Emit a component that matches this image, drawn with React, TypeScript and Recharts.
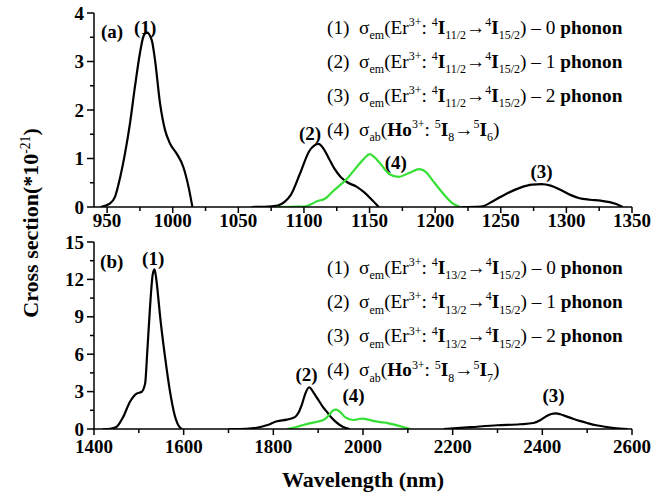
import React from "react";
import { LineChart, Line, XAxis, YAxis, ReferenceDot } from "recharts";

const FONT = '"Liberation Serif", "Times New Roman", serif';
const GREEN = "#33e033";

// ---- panel (a): 4I11/2 -> 4I15/2 emission and Ho 5I8 -> 5I6 absorption
const aWave1 = [945, 952, 956, 960, 963.6, 967.4, 971.2, 975, 977.6, 980.2, 984, 986.5, 990.3, 994.1, 997.9, 1003, 1008, 1012, 1015];
const aSig1 = [0, 0.07, 0.21, 0.62, 1.1, 1.72, 2.48, 3.17, 3.51, 3.6, 3.44, 3.03, 2.14, 1.59, 1.31, 1.1, 0.83, 0.42, 0];

const aWave2 = [1060, 1070, 1080, 1085, 1090, 1097, 1104, 1108, 1111, 1115, 1119, 1123, 1128, 1133, 1140, 1146, 1151, 1157];
const aSig2 = [0, 0.005, 0.03, 0.1, 0.25, 0.69, 1.15, 1.27, 1.3, 1.2, 1.0, 0.8, 0.62, 0.51, 0.42, 0.3, 0.17, 0];

const aWave3 = [1220, 1235, 1244, 1254, 1265, 1274, 1281, 1288, 1295, 1303, 1310, 1318, 1326, 1333, 1338, 1343];
const aSig3 = [0, 0.01, 0.12, 0.27, 0.4, 0.46, 0.47, 0.44, 0.36, 0.25, 0.18, 0.15, 0.13, 0.1, 0.06, 0];

const aWave4 = [1079, 1090, 1100, 1105, 1110, 1116, 1122, 1132, 1142, 1147, 1150, 1154, 1158, 1165, 1172, 1180, 1188, 1193, 1198, 1206, 1213, 1219];
const aSig4 = [0, 0.005, 0.01, 0.05, 0.12, 0.17, 0.32, 0.56, 0.88, 1.03, 1.09, 1.02, 0.9, 0.68, 0.62, 0.7, 0.78, 0.72, 0.55, 0.28, 0.08, 0];

// ---- panel (b): 4I13/2 -> 4I15/2 emission and Ho 5I8 -> 5I7 absorption
const bWave1 = [1420, 1436, 1450, 1465, 1480, 1495, 1506, 1514, 1519, 1525, 1531, 1535, 1539, 1544, 1547, 1558, 1570, 1580, 1592, 1597];
const bSig1 = [0, 0.02, 0.16, 0.96, 2.17, 2.84, 2.97, 3.64, 6.3, 9.8, 12.4, 12.8, 12.0, 10.3, 9.2, 5.9, 2.9, 1.1, 0.1, 0];

const bWave2 = [1700, 1740, 1763, 1785, 1808, 1830, 1848, 1856, 1864, 1872, 1880, 1890, 1900, 1910, 1920, 1930, 1940, 1950, 1960, 1970];
const bSig2 = [0, 0.02, 0.1, 0.3, 0.62, 0.75, 0.95, 1.3, 2.0, 2.9, 3.35, 2.9, 2.35, 1.8, 1.35, 0.9, 0.55, 0.28, 0.1, 0];

const bWave3 = [2180, 2240, 2300, 2350, 2380, 2395, 2410, 2420, 2430, 2440, 2450, 2470, 2485, 2500, 2520, 2540, 2560, 2590];
const bSig3 = [0, 0.15, 0.3, 0.38, 0.48, 0.7, 1.05, 1.2, 1.25, 1.18, 1.05, 0.8, 0.63, 0.48, 0.3, 0.18, 0.08, 0];

const bWave4 = [1830, 1845, 1860, 1880, 1900, 1915, 1925, 1932, 1940, 1948, 1960, 1970, 1980, 1990, 2000, 2012, 2025, 2040, 2055, 2070, 2085, 2100, 2105];
const bSig4 = [0, 0.1, 0.25, 0.45, 0.6, 0.8, 1.15, 1.45, 1.55, 1.4, 0.95, 0.78, 0.72, 0.8, 0.83, 0.75, 0.63, 0.55, 0.47, 0.35, 0.2, 0.05, 0];

// ticks
const aXMajor = [950, 1000, 1050, 1100, 1150, 1200, 1250, 1300, 1350];
const aXMinor = [975, 1025, 1075, 1125, 1175, 1225, 1275, 1325];
const aYMajor = [0, 1, 2, 3, 4];
const aYMinor = [0.5, 1.5, 2.5, 3.5];
const bXMajor = [1400, 1600, 1800, 2000, 2200, 2400, 2600];
const bXMinor = [1500, 1700, 1900, 2100, 2300, 2500];
const bYMajor = [0, 3, 6, 9, 12, 15];
const bYMinor = [1.5, 4.5, 7.5, 10.5, 13.5];

// peak labels
const aNotes = [
  { x: 953.7, y: 3.62, text: "(a)" },
  { x: 979, y: 3.71, text: "(1)" },
  { x: 1104.6, y: 1.52, text: "(2)" },
  { x: 1170, y: 0.93, text: "(4)" },
  { x: 1281, y: 0.73, text: "(3)" },
];
const bNotes = [
  { x: 1439.5, y: 13.47, text: "(b)" },
  { x: 1532, y: 13.66, text: "(1)" },
  { x: 1874, y: 4.39, text: "(2)" },
  { x: 1979, y: 2.7, text: "(4)" },
  { x: 2425, y: 2.7, text: "(3)" },
];

type Seg = [string, "n" | "b" | "sub" | "sup"];

const emLine = (n: string, upper: string, ph: string): Seg[] => [
  [`(${n})  σ`, "n"], ["em", "sub"], ["(Er", "n"], ["3+", "sup"], [": ", "n"],
  ["4", "sup"], ["I", "b"], [upper, "sub"], ["→", "n"], ["4", "sup"], ["I", "b"],
  ["15/2", "sub"], [`) – ${ph} `, "n"], ["phonon", "b"],
];
const abLine = (final: string): Seg[] => [
  ["(4)  σ", "n"], ["ab", "sub"], ["(", "n"], ["Ho", "b"], ["3+", "sup"], [": ", "n"],
  ["5", "sup"], ["I", "b"], ["8", "sub"], ["→", "n"], ["5", "sup"], ["I", "b"], [final, "sub"], [")", "n"],
];
const aLegend = [emLine("1", "11/2", "0"), emLine("2", "11/2", "1"), emLine("3", "11/2", "2"), abLine("6")];
const bLegend = [emLine("1", "13/2", "0"), emLine("2", "13/2", "1"), emLine("3", "13/2", "2"), abLine("7")];

const zip = (xs: number[], ys: number[]) => xs.map((x, i) => ({ x, y: ys[i] }));

const Rich = ({ x, y, segs, size, anchor, transform }: any) => {
  let cur = 0;
  return (
    <text x={x} y={y} fontFamily={FONT} fontSize={size} textAnchor={anchor || "start"} transform={transform} fill="#000" style={{ whiteSpace: "pre" }}>
      {segs.map(([t, k]: Seg, i: number) => {
        const target = k === "sub" ? size * 0.3 : k === "sup" ? -size * 0.38 : 0;
        const dy = target - cur;
        cur = target;
        const small = k === "sub" || k === "sup";
        return (
          <tspan key={i} dy={dy} fontSize={small ? size * 0.62 : size} fontWeight={k === "b" ? "bold" : "normal"}>
            {t}
          </tspan>
        );
      })}
    </text>
  );
};

const XTick = ({ x, y, payload, major, dy }: any) => {
  const isMajor = major.includes(payload.value);
  return (
    <g>
      <line x1={x} x2={x} y1={y} y2={y + (isMajor ? 6 : 4)} stroke="#000" strokeWidth={1.5} />
      {isMajor && (
        <text x={x} y={y + dy} textAnchor="middle" fontFamily={FONT} fontWeight="bold" fontSize={19} fill="#000">
          {payload.value}
        </text>
      )}
    </g>
  );
};

const YTick = ({ x, y, payload, major }: any) => {
  const isMajor = major.includes(payload.value);
  return (
    <g>
      <line x1={x} x2={x - (isMajor ? 7 : 4)} y1={y} y2={y} stroke="#000" strokeWidth={1.5} />
      {isMajor && (
        <text x={x - 10} y={y + 6.5} textAnchor="end" fontFamily={FONT} fontWeight="bold" fontSize={19} fill="#000">
          {payload.value}
        </text>
      )}
    </g>
  );
};

const Panel = ({ top, height, margin, xDomain, xMajor, xMinor, yDomain, yMajor, yMinor, series, notes, labelDy, xAxisHeight }: any) => (
  <div style={{ position: "absolute", left: 0, top }}>
    <LineChart width={651} height={height} margin={margin}>
      <XAxis
        dataKey="x"
        type="number"
        domain={xDomain}
        ticks={[...xMajor, ...xMinor].sort((a: number, b: number) => a - b)}
        interval={0}
        tickSize={0}
        tickMargin={0}
        height={xAxisHeight}
        allowDataOverflow
        axisLine={{ stroke: "#000", strokeWidth: 1.5 }}
        tick={(p: any) => <XTick {...p} major={xMajor} dy={labelDy} />}
      />
      <XAxis xAxisId="t" orientation="top" type="number" domain={xDomain} height={0} tick={false} tickLine={false} axisLine={{ stroke: "#000", strokeWidth: 1.5 }} />
      <YAxis
        type="number"
        domain={yDomain}
        ticks={[...yMajor, ...yMinor].sort((a: number, b: number) => a - b)}
        interval={0}
        tickSize={0}
        tickMargin={0}
        width={94}
        allowDataOverflow
        axisLine={{ stroke: "#000", strokeWidth: 1.5 }}
        tick={(p: any) => <YTick {...p} major={yMajor} />}
      />
      <YAxis yAxisId="r" orientation="right" type="number" domain={yDomain} width={0} tick={false} tickLine={false} axisLine={{ stroke: "#000", strokeWidth: 1.5 }} />
      {series.map((s: any, i: number) => (
        <Line key={i} data={s.data} dataKey="y" type="monotone" dot={false} stroke={s.color} strokeWidth={2.2} isAnimationActive={false} />
      ))}
      {notes.map((n: any, i: number) => (
        <ReferenceDot
          key={i}
          x={n.x}
          y={n.y}
          r={1}
          fill="none"
          stroke="none"
          label={{ value: n.text, position: "center", fill: "#000", fontSize: 19, fontWeight: "bold", fontFamily: FONT }}
        />
      ))}
    </LineChart>
  </div>
);

export default function App() {
  const aSeries = [
    { data: zip(aWave1, aSig1), color: "#000" },
    { data: zip(aWave2, aSig2), color: "#000" },
    { data: zip(aWave3, aSig3), color: "#000" },
    { data: zip(aWave4, aSig4), color: GREEN },
  ];
  const bSeries = [
    { data: zip(bWave1, bSig1), color: "#000" },
    { data: zip(bWave2, bSig2), color: "#000" },
    { data: zip(bWave3, bSig3), color: "#000" },
    { data: zip(bWave4, bSig4), color: GREEN },
  ];
  return (
    <div style={{ position: "absolute", left: 0, top: 0, width: 651, height: 498, background: "#fff" }}>
      <Panel
        top={0}
        height={240}
        margin={{ top: 13, right: 19, bottom: 0, left: 0 }}
        xAxisHeight={33}
        xDomain={[940, 1350]}
        xMajor={aXMajor}
        xMinor={aXMinor}
        yDomain={[0, 4]}
        yMajor={aYMajor}
        yMinor={aYMinor}
        series={aSeries}
        notes={aNotes}
        labelDy={20}
      />
      <Panel
        top={228}
        height={270}
        margin={{ top: 14, right: 19, bottom: 39, left: 0 }}
        xAxisHeight={30}
        xDomain={[1400, 2600]}
        xMajor={bXMajor}
        xMinor={bXMinor}
        yDomain={[0, 15]}
        yMajor={bYMajor}
        yMinor={bYMinor}
        series={bSeries}
        notes={bNotes}
        labelDy={24}
      />
      <svg width={651} height={498} style={{ position: "absolute", left: 0, top: 0, pointerEvents: "none" }}>
        {aLegend.map((segs, i) => (
          <Rich key={"a" + i} x={327} y={33.5 + i * 34} segs={segs} size={19.3} />
        ))}
        {bLegend.map((segs, i) => (
          <Rich key={"b" + i} x={327} y={273.5 + i * 34.3} segs={segs} size={19.3} />
        ))}
        <Rich
          x={38}
          y={223}
          anchor="middle"
          transform="rotate(-90 38 223)"
          size={22}
          segs={[["Cross section(*10", "b"], ["-21", "sup"], [")", "b"]]}
        />
        <text x={363} y={487} textAnchor="middle" fontFamily={FONT} fontWeight="bold" fontSize={22} fill="#000">
          Wavelength (nm)
        </text>
      </svg>
    </div>
  );
}
